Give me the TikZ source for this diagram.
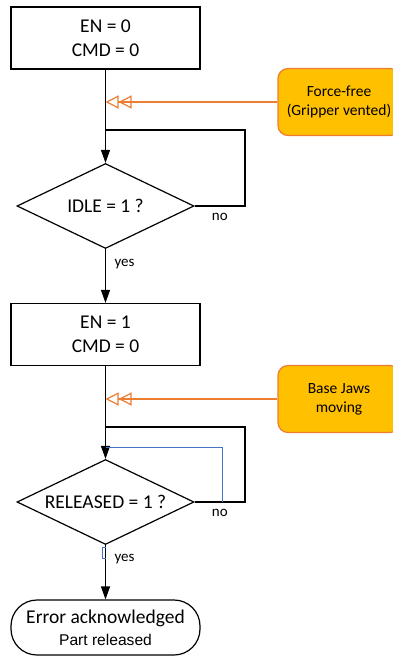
\documentclass[tikz,border=0pt]{standalone}
\usepackage{fontspec}
\setmainfont{Carlito}
\newfontfamily\arialf{Liberation Sans}
\usetikzlibrary{arrows.meta,shapes.geometric,positioning}
\definecolor{notefill}{HTML}{FFC000}
\definecolor{noteborder}{HTML}{ED7D31}
\definecolor{bluel}{HTML}{4472C4}
\tikzset{
 proc/.style={draw, line width=1.2pt, minimum width=189pt, minimum height=62pt, align=center, font=\fontsize{19.5}{23.5}\selectfont, inner sep=0pt},
 dec/.style={draw, diamond, shape aspect=2.08, minimum width=177pt, minimum height=85pt, inner sep=0pt, line width=1.2pt, font=\fontsize{19.5}{23.5}\selectfont},
 term/.style={draw, line width=1.2pt, rounded corners=26pt, minimum width=189pt, minimum height=55pt, align=center, font=\fontsize{19.5}{22}\selectfont, inner sep=0pt},
 note/.style={draw=noteborder, fill=notefill, rounded corners=10pt, line width=1.2pt, minimum width=122pt, minimum height=67pt, align=center, font=\fontsize{15.5}{19}\selectfont, inner sep=0pt},
 flow/.style={line width=1.2pt, -{Triangle[length=13pt,width=9pt]}},
 plain/.style={line width=1.2pt},
 sig/.style={draw=noteborder, line width=1.2pt, -{Triangle[open,length=13pt,width=13pt]Triangle[open,length=13pt,width=13pt]}},
 lbl/.style={font=\fontsize{15}{18}\selectfont, inner sep=0pt, anchor=base west},
 thin blue/.style={draw=bluel, line width=0.8pt},
}
\begin{document}
\begin{tikzpicture}[x=1pt,y=-1pt]
\useasboundingbox (0,0) rectangle (393,657);
\node[proc] (b1) at (105.5,38) {EN = 0\\CMD = 0};
\node[dec] (d1) at (105.5,206) {IDLE = 1 ?};
\node[proc] (b2) at (105.5,334.5) {EN = 1\\CMD = 0};
\node[dec] (d2) at (105.5,502) {RELEASED = 1 ?};
\node[term] (t) at (105.5,627.5) {Error acknowledged\\{\arialf\fontsize{15.6}{18}\selectfont Part released}};
\node[note] (n1) at (339,102) {Force-free\\(Gripper vented)};
\node[note] (n2) at (339,399) {Base Jaws\\moving};
\coordinate (a1) at (105.5,102);
\coordinate (j1) at (105.5,130);
\coordinate (r1) at (245,130);
\coordinate (a2) at (105.5,399);
\coordinate (j2) at (105.5,427);
\coordinate (r2) at (245,427);
\coordinate (bl1) at (105.5,447);
\coordinate (bl2) at (222,502);
\coordinate (br1) at (105.5,547);
\coordinate (br2) at (102,558);
\draw[flow] (b1) -- (d1);
\draw[plain] (d1.east) -| (r1) -- (j1);
\draw[sig] (n1.west) -- (a1);
\draw[flow] (d1) -- (b2);
\draw[flow] (b2) -- (d2);
\draw[plain] (d2.east) -| (r2) -- (j2);
\draw[sig] (n2.west) -- (a2);
\draw[thin blue] (bl1) -| (bl2);
\draw[flow] (d2) -- (t);
\draw[thin blue] (br1) -| (br2) -- (br2 -| br1);
\node[lbl] (no1) at (211.7,220) {no};
\node[lbl] (yes1) at (114.3,266.5) {yes};
\node[lbl] (no2) at (211.7,516) {no};
\node[lbl] (yes2) at (114.3,561) {yes};
\end{tikzpicture}
\end{document}
